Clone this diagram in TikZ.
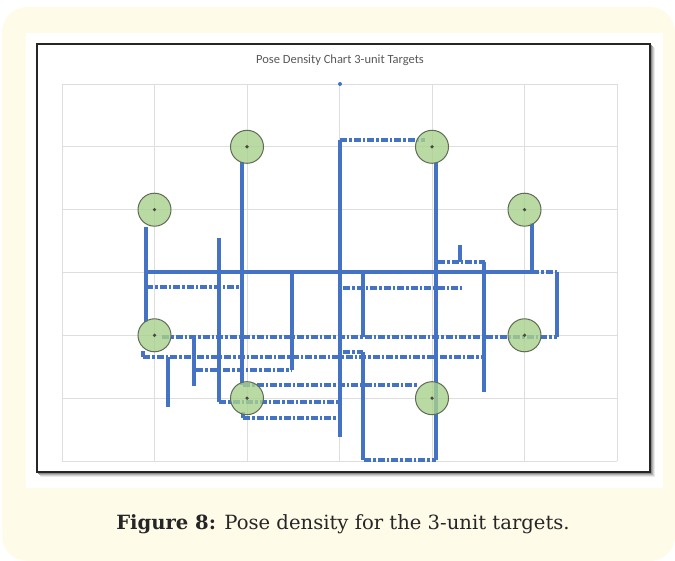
\documentclass[tikz,border=0pt]{standalone}
\usepackage{fontspec}
\setmainfont{DejaVu Serif}
\newfontfamily\chartfont{Carlito}
\definecolor{cream}{HTML}{FFFBE9}
\definecolor{pblue}{HTML}{4472C4}
\definecolor{tgreen}{HTML}{A9D18E}
\definecolor{tborder}{HTML}{5E6B55}
\definecolor{gridgray}{HTML}{DEDEDE}
\definecolor{titlegray}{HTML}{595959}
\definecolor{framegray}{HTML}{262626}
\definecolor{dotgray}{HTML}{4A4A40}
\begin{document}
\begin{tikzpicture}[x=1pt,y=-1pt,
  grid/.style={draw=gridgray,line width=0.8pt},
  vseg/.style={draw=pblue,line width=3.4pt},
  hseg/.style={draw=pblue,line width=3.2pt,dash pattern=on 7pt off 2pt on 2.5pt off 2pt},
  target/.style={circle,draw=tborder,line width=1pt,fill=tgreen,fill opacity=0.8,minimum size=33pt,inner sep=0pt},
  cdot/.style={fill=dotgray}
]
\useasboundingbox (0,0) rectangle (675,561);
% backgrounds
\fill[cream, rounded corners=25pt] (2,7) rectangle (675,561);
\fill[white] (26,33) rectangle (663,488);
% frame shadow
\foreach \i/\o in {1/0.45,2/0.3,3/0.18,4/0.08}
  \draw[black,opacity=\o,line width=1pt] (37+\i,472+\i) -- (650+\i,472+\i) -- (650+\i,44+\i);
\draw[line width=1.6pt,draw=framegray] (37,44) rectangle (650,472);
% grid
\foreach \x in {62,154.5,247,339.5,432,524.5,617}
  \draw[grid] (\x,84) -- (\x,461);
\foreach \y in {84,146.8,209.7,272.5,335.3,398.2,461}
  \draw[grid] (62,\y) -- (617,\y);
% title
\node[font=\chartfont\fontsize{12.5}{14}\selectfont, text=titlegray] (title) at (340,60) {Pose Density Chart 3-unit Targets};
% vertical runs
\draw[vseg] (146,227) -- (146,322);
\draw[vseg] (219,238) -- (219,402);
\draw[vseg] (242,162) -- (242,385);
\draw[vseg] (340,140) -- (340,437);
\draw[vseg] (436,162) -- (436,460);
\draw[vseg] (532,223) -- (532,272);
\draw[vseg] (460,245) -- (460,262);
\draw[vseg] (484,262) -- (484,392);
\draw[vseg] (557,272) -- (557,337);
\draw[vseg] (363,272) -- (363,337);
\draw[vseg] (292,272) -- (292,370);
\draw[vseg] (194,337) -- (194,386);
\draw[vseg] (168,357) -- (168,407);
\draw[vseg] (363,352) -- (363,460);
\draw[vseg] (143,351) -- (143,357);
\draw[vseg] (243,412) -- (243,418);
% horizontal runs
\draw[hseg] (340,140) -- (425,140);
\draw[vseg] (145,272) -- (532,272);
\draw[hseg] (532,272) -- (557,272);
\draw[hseg] (146,287) -- (240,287);
\draw[hseg] (343,288) -- (462,288);
\draw[hseg] (162,337) -- (557,337);
\draw[hseg] (143,357) -- (483,357);
\draw[hseg] (196,370) -- (292,370);
\draw[hseg] (243,385) -- (417,385);
\draw[hseg] (219,402) -- (338,402);
\draw[hseg] (243,418) -- (338,418);
\draw[hseg] (364,460) -- (436,460);
\draw[hseg] (438,262) -- (485,262);
\draw[hseg] (343,352) -- (363,352);
% single sample
\fill[pblue] (340,84) circle (2pt);
% targets
\node[target] (t1) at (154.5,209.7) {};
\node[target] (t2) at (247,146.8) {};
\node[target] (t3) at (432,146.8) {};
\node[target] (t4) at (524.5,209.7) {};
\node[target] (t5) at (154.5,335.3) {};
\node[target] (t6) at (524.5,335.3) {};
\node[target] (t7) at (247,398.2) {};
\node[target] (t8) at (432,398.2) {};
\foreach \t in {t1,t2,t3,t4,t5,t6,t7,t8}
  \fill[cdot] (\t.center) circle (1.8pt);
% caption
\node[anchor=base, text=black!85, font=\fontsize{19.6}{23}\selectfont] (caption) at (343,529) {\textbf{Figure 8:} Pose density for the 3-unit targets.};
\end{tikzpicture}
\end{document}
